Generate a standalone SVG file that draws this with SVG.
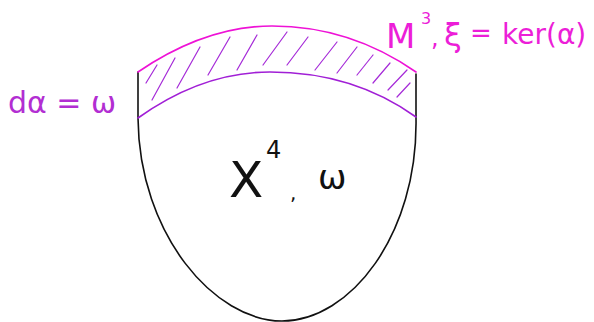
<svg xmlns="http://www.w3.org/2000/svg" width="594" height="322" viewBox="0 0 594 322">
<style>
.ink{fill:none;stroke-linecap:round;stroke-linejoin:round}
.blk{stroke:#111;stroke-width:1.6}
.pink{stroke:#ee12d6;stroke-width:1.6}
.purp{stroke:#a11fd6;stroke-width:1.6}
.hatch{stroke:#a52ad8;stroke-width:1.2}
.t{font-family:"DejaVu Sans","Liberation Sans",sans-serif;font-weight:normal}
.tp{fill:#ec1ed8}
.tv{fill:#b22ed2}
.tk{fill:#111}
</style>
<rect width="594" height="322" fill="#fff"/>
<g id="bowl">
<path class="ink blk" d="M138,72 L138,118 C139,235 215,321 282,321 C350,321 418,235 416,118 L416,74"/>
</g>
<g id="collar">
<path class="ink pink" d="M138,72 C185,40 230,26 272,26 C320,26 370,40 416,72"/>
<path class="ink purp" d="M138,118 C180,88 225,72 270,72 C320,72 370,84 416,117"/>
<g class="ink hatch">
<path d="M146,83 L157,65"/>
<path d="M152,100 L175,58"/>
<path d="M177,88 L200,47"/>
<path d="M208,75 L230,37"/>
<path d="M237,70 L257,35"/>
<path d="M263,65 L287,32"/>
<path d="M287,65 L308,37"/>
<path d="M315,70 L337,42"/>
<path d="M337,73 L357,47"/>
<path d="M357,75 L373,55"/>
<path d="M373,83 L390,63"/>
<path d="M388,90 L407,70"/>
<path d="M397,97 L410,83"/>
</g>
</g>
<g id="label-M">
<text class="t tp" x="386" y="48" font-size="28"><tspan x="386" y="48" font-size="34">M</tspan><tspan x="421" y="24" font-size="16">3</tspan><tspan x="431" y="46" font-size="24">,</tspan><tspan x="444" y="46" font-size="32">ξ</tspan><tspan x="470" y="42" font-size="26">=</tspan><tspan x="502" y="44" font-size="28">ker(α)</tspan></text>
</g>
<g id="label-d">
<text class="t tv" x="8" y="113" font-size="30">dα = ω</text>
</g>
<g id="label-X">
<text class="t tk" x="229" y="197" font-size="50"><tspan x="229" y="197">X</tspan><tspan x="266" y="158" font-size="24">4</tspan><tspan x="290" y="200" font-size="20">,</tspan><tspan x="318" y="189" font-size="34">ω</tspan></text>
</g>
</svg>
